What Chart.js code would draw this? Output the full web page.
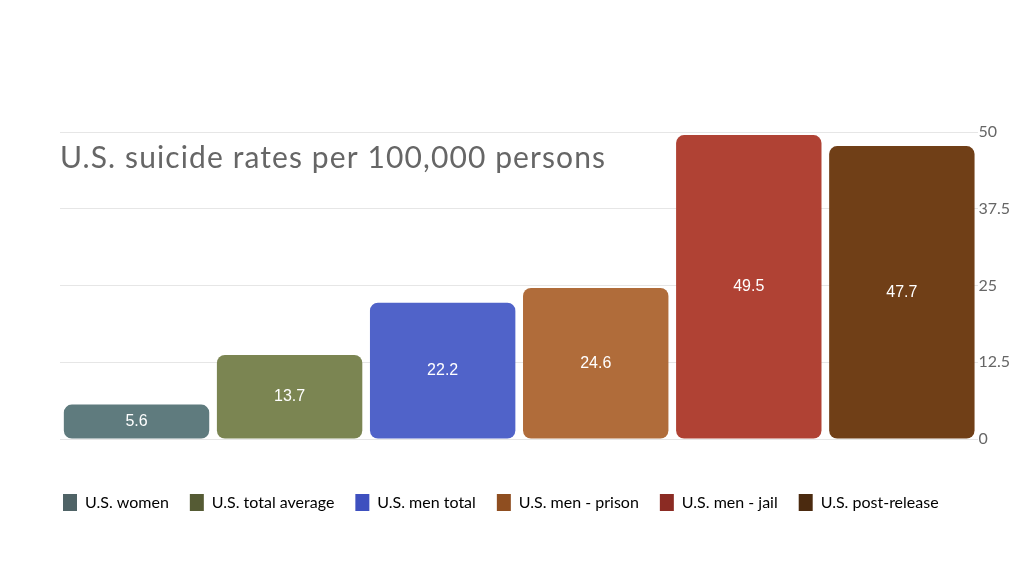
<!DOCTYPE html>
<html>
<head>
<meta charset="utf-8">
<script src="https://cdn.jsdelivr.net/npm/chart.js@4"></script>
<style>
  html, body { margin: 0; padding: 0; background: #fff; }
  #wrap { width: 1024px; height: 576px; }
</style>
</head>
<body>
<div id="wrap"><canvas id="rates"></canvas></div>
<script>
// Suicide rates per 100,000 persons
const categories = ['U.S. women', 'U.S. total average', 'U.S. men total', 'U.S. men - prison', 'U.S. men - jail', 'U.S. post-release'];
const rates = [5.6, 13.7, 22.2, 24.6, 49.5, 47.7];
const yTicks = [0, 12.5, 25, 37.5, 50];
const chartTitle = 'U.S. suicide rates per 100,000 persons';

const barColors = ['#5f7b7e', '#7b8552', '#5063c9', '#b06c3a', '#b04234', '#703f17'];
const legendColors = ['#4f6366', '#555b34', '#3e50bf', '#8f4e20', '#8b2b23', '#4b2a0f'];

// title drawn over the plot, top-left
const titlePlugin = {
    id: 'innerTitle',
    afterDraw(chart) {
        const { ctx } = chart;
        ctx.save();
        ctx.font = '30px Lato';
        ctx.letterSpacing = '1.1px';
        ctx.fillStyle = '#666';
        ctx.textBaseline = 'alphabetic';
        ctx.fillText(chartTitle, 60, 168);
        ctx.restore();
    }
};

// value labels in the middle of each bar
const valuePlugin = {
    id: 'valueLabels',
    afterDatasetsDraw(chart) {
        const { ctx } = chart;
        const meta = chart.getDatasetMeta(0);
        ctx.save();
        ctx.font = '16px "Liberation Sans"';
        ctx.fillStyle = '#fff';
        ctx.textAlign = 'center';
        ctx.textBaseline = 'middle';
        meta.data.forEach((bar, i) => {
            ctx.fillText(rates[i].toFixed(1), bar.x, (bar.y + bar.base) / 2);
        });
        ctx.restore();
    }
};

// pull the legend row flush with the plot's left edge
const legendShift = {
    id: 'legendShift',
    afterLayout(chart) {
        chart.legend.left -= 18;
        chart.legend.right -= 18;
    }
};

new Chart(document.getElementById('rates'), {
    type: 'bar',
    data: {
        labels: categories,
        datasets: [{
            data: rates,
            backgroundColor: barColors,
            borderRadius: 8,
            borderSkipped: false,
            barPercentage: 0.95,
            categoryPercentage: 1
        }]
    },
    options: {
        responsive: true,
        maintainAspectRatio: false,
        animation: false,
        layout: { padding: { left: 60, top: 132, right: 14, bottom: 55 } },
        plugins: {
            legend: {
                position: 'bottom',
                align: 'start',
                labels: {
                    font: { family: 'Lato', size: 16 },
                    color: '#333',
                    boxWidth: 14,
                    boxHeight: 17,
                    padding: 21,
                    generateLabels: chart => chart.data.labels.map((label, i) => ({
                        text: label,
                        fillStyle: legendColors[i],
                        strokeStyle: legendColors[i],
                        lineWidth: 0,
                        index: i
                    }))
                },
                onClick: null
            },
            tooltip: { enabled: false }
        },
        scales: {
            x: {
                display: true,
                grid: { display: false },
                border: { display: false },
                ticks: { display: false },
                afterFit: axis => { axis.height = 34; }
            },
            y: {
                position: 'right',
                min: 0,
                max: 50,
                afterBuildTicks: axis => { axis.ticks = yTicks.map(v => ({ value: v })); },
                grid: { color: '#e6e6e6', drawTicks: false },
                border: { display: false },
                ticks: {
                    color: '#666',
                    font: { family: 'Lato', size: 16 },
                    padding: 0
                }
            }
        }
    },
    plugins: [titlePlugin, valuePlugin, legendShift]
});
</script>
</body>
</html>
